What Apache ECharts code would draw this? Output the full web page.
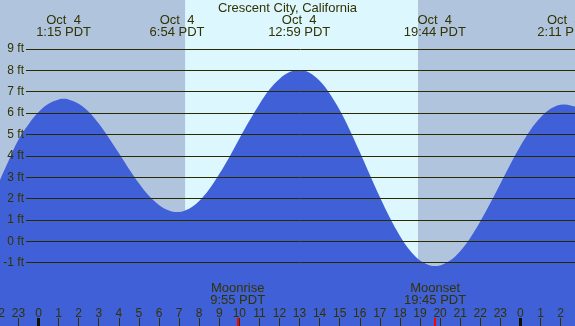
<!DOCTYPE html>
<html>
<head>
<meta charset="utf-8">
<script src="https://cdn.jsdelivr.net/npm/echarts@6/dist/echarts.min.js"></script>
<style>
  html, body { margin: 0; padding: 0; }
  #main { width: 575px; height: 326px; }
</style>
</head>
<body>
<div id="main"></div>
<script>
// hours since local midnight of Oct 4, tide height in feet
const hours = [-2, -1.5, -1, -0.5, 0, 0.5, 1, 1.25, 1.5, 2, 2.5, 3, 3.5, 4, 4.5, 5, 5.5, 6, 6.5, 6.9,
  7.5, 8, 8.5, 9, 9.5, 10, 10.5, 11, 11.5, 12, 12.5, 12.98, 13.5, 14, 14.5, 15, 15.5,
  16, 16.5, 17, 17.5, 18, 18.5, 19, 19.5, 19.73, 20, 20.5, 21, 21.5, 22, 22.5, 23, 23.5,
  24, 24.5, 25, 25.5, 26, 26.18, 26.5, 27];
const tideFt = [2.70, 3.75, 4.75, 5.47, 6.05, 6.44, 6.64, 6.67, 6.64, 6.44, 6.06, 5.51, 4.85, 4.13, 3.40, 2.72, 2.13, 1.70, 1.44, 1.37,
  1.53, 1.89, 2.44, 3.15, 3.94, 4.80, 5.64, 6.42, 7.10, 7.60, 7.92, 8.02, 7.89, 7.51, 6.92, 6.14, 5.21,
  4.18, 3.12, 2.07, 1.10, 0.25, -0.43, -0.90, -1.13, -1.16, -1.13, -0.90, -0.46, 0.16, 0.93, 1.79, 2.70, 3.61,
  4.46, 5.21, 5.79, 6.20, 6.39, 6.40, 6.36, 6.22];

// high / low tide times and their labels
const tideTimes = [1 + 15 / 60, 6 + 54 / 60, 12 + 59 / 60, 19 + 44 / 60, 26 + 11 / 60];
const tideLabels = ['Oct  4\n1:15 PDT', 'Oct  4\n6:54 PDT', 'Oct  4\n12:59 PDT', 'Oct  4\n19:44 PDT', 'Oct  5\n2:11 PDT'];

const moonTimes = [9 + 55 / 60, 19 + 45 / 60];
const moonLabels = ['Moonrise\n9:55 PDT', 'Moonset\n19:45 PDT'];

const sunTimes = [7 + 18 / 60, 18 + 54 / 60]; // sunrise, sunset
const midnights = [0, 24];
const yTicks = [-1, 0, 1, 2, 3, 4, 5, 6, 7, 8, 9];

const xMin = -2, xMax = 27;
const yMin = -3.962, yMax = 11.293;

const textColor = '#333300';
const font = 'Liberation Sans';

function pick(times, labels, v) {
  let best = 0;
  times.forEach((t, i) => { if (Math.abs(t - v) < Math.abs(times[best] - v)) best = i; });
  return labels[best];
}

const chart = echarts.init(document.getElementById('main'));

const noLine = { show: false, onZero: false };

const option = {
  animation: false,
  backgroundColor: '#b0c4de',
  title: {
    text: 'Crescent City, California',
    left: 'center',
    top: -3,
    z: 10,
    textStyle: { fontFamily: font, fontSize: 13, fontWeight: 'normal', color: textColor }
  },
  grid: [
    { left: -1.66, right: -5.66, top: 0, bottom: 0, containLabel: false, outerBoundsMode: 'none' },
    { left: 26, right: 0, top: 0, bottom: 0, containLabel: false, outerBoundsMode: 'none' }
  ],
  xAxis: [
    { // hour ticks
      type: 'value', gridIndex: 0, position: 'bottom', min: xMin, max: xMax, interval: 1, z: 10,
      axisLine: noLine, splitLine: { show: false },
      axisTick: { inside: true, length: 8, lineStyle: { color: textColor, width: 1 } },
      axisLabel: {
        inside: true, margin: 6, fontFamily: font, fontSize: 12, color: textColor,
        showMinLabel: true, showMaxLabel: true, hideOverlap: false,
        formatter: v => String(((v % 24) + 24) % 24)
      }
    },
    { // high / low labels at top
      type: 'value', gridIndex: 0, position: 'top', min: xMin, max: xMax, z: 10,
      axisLine: noLine, splitLine: { show: false }, axisTick: { show: false },
      axisLabel: {
        inside: true, margin: 14, customValues: tideTimes,
        fontFamily: font, fontSize: 13, lineHeight: 12, color: textColor,
        formatter: v => pick(tideTimes, tideLabels, v)
      }
    },
    { // moon events
      type: 'value', gridIndex: 0, position: 'bottom', min: xMin, max: xMax, z: 10,
      axisLine: noLine, splitLine: { show: false },
      axisTick: { inside: true, length: 8, customValues: moonTimes, lineStyle: { color: '#ff0000', width: 2 } },
      axisLabel: {
        inside: true, margin: 20, customValues: moonTimes,
        fontFamily: font, fontSize: 13, lineHeight: 12, color: textColor,
        formatter: v => pick(moonTimes, moonLabels, v)
      }
    },
    { // midnight ticks
      type: 'value', gridIndex: 0, position: 'bottom', min: xMin, max: xMax, z: 11,
      axisLine: noLine, splitLine: { show: false }, axisLabel: { show: false },
      axisTick: { inside: true, length: 8, customValues: midnights, lineStyle: { color: '#111100', width: 3 } }
    },
    {
      type: 'value', gridIndex: 1, min: 0, max: 1, show: false
    }
  ],
  yAxis: [
    {
      type: 'value', gridIndex: 0, min: yMin, max: yMax, show: false
    },
    {
      type: 'value', gridIndex: 1, min: yMin, max: yMax, z: 10,
      axisLine: noLine, axisTick: { show: false }, splitLine: { show: false },
      axisLabel: {
        customValues: yTicks, margin: 2, fontFamily: font, fontSize: 12, color: textColor,
        formatter: v => v + ' ft'
      }
    }
  ],
  series: [
    {
      type: 'line',
      xAxisIndex: 0, yAxisIndex: 0,
      data: hours.map((h, i) => [h, tideFt[i]]),
      smooth: 0.35,
      showSymbol: false,
      lineStyle: { width: 0 },
      areaStyle: { color: '#4060d8', opacity: 1, origin: 'start' },
      z: 2,
      markArea: {
        silent: true,
        z: 1,
        itemStyle: { color: '#ddf7ff' },
        data: [[{ xAxis: sunTimes[0] }, { xAxis: sunTimes[1] }]]
      }
    },
    {
      type: 'line',
      xAxisIndex: 4, yAxisIndex: 1,
      data: [],
      markLine: {
        silent: true,
        symbol: 'none',
        z: 5,
        label: { show: false },
        lineStyle: { color: '#2a2a00', width: 1, type: 'solid' },
        data: yTicks.map(v => ({ yAxis: v }))
      }
    }
  ]
};

chart.setOption(option);
</script>
</body>
</html>
